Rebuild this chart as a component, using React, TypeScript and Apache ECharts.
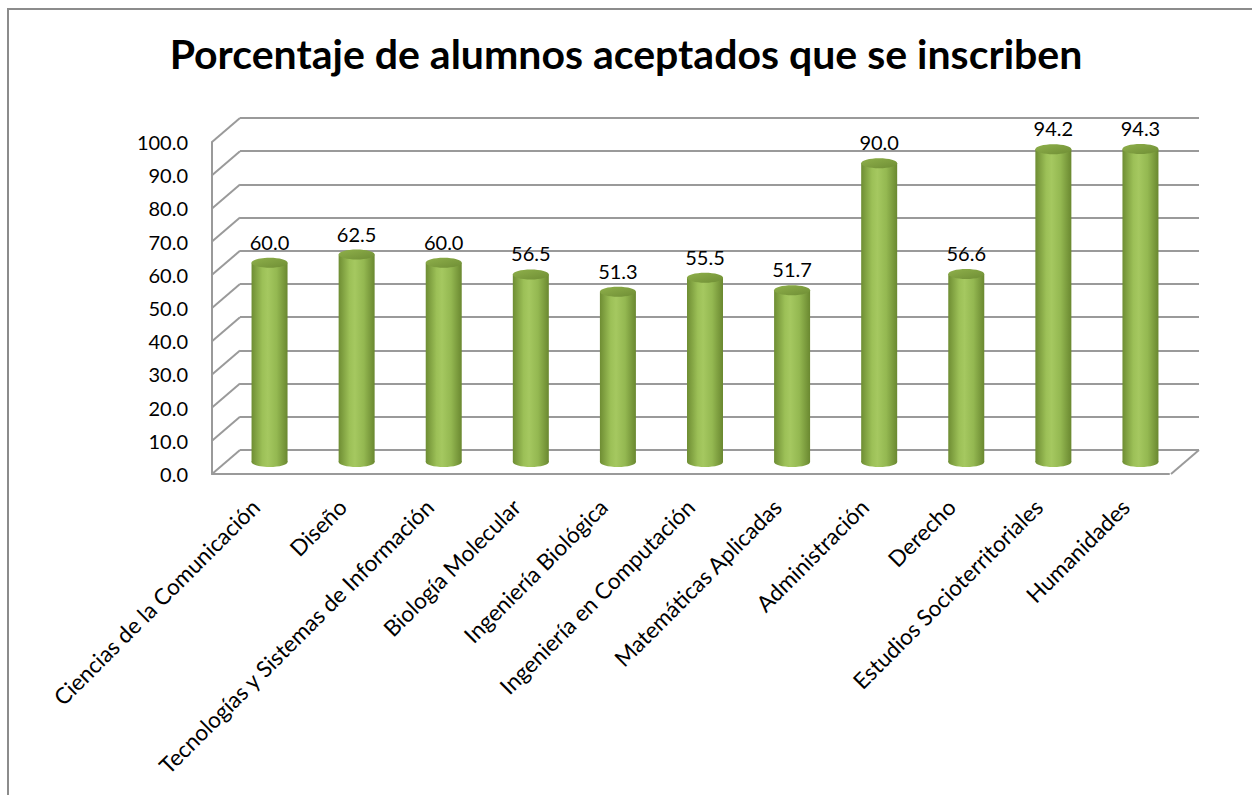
import React, { useEffect, useRef } from "react";
import * as echarts from "echarts";

const titleText = "Porcentaje de alumnos aceptados que se inscriben";

const categories = [
  "Ciencias de la Comunicación",
  "Diseño",
  "Tecnologías y Sistemas de Información",
  "Biología Molecular",
  "Ingeniería Biológica",
  "Ingeniería en Computación",
  "Matemáticas Aplicadas",
  "Administración",
  "Derecho",
  "Estudios Socioterritoriales",
  "Humanidades",
];

const values = [60.0, 62.5, 60.0, 56.5, 51.3, 55.5, 51.7, 90.0, 56.6, 94.2, 94.3];

const yTicks = [0, 10, 20, 30, 40, 50, 60, 70, 80, 90, 100];

const FONT = "Lato, 'Open Sans', 'DejaVu Sans', sans-serif";
const GRID_COLOR = "#9a9a9a";
const DX = -28;
const DY = 24;

export default function App() {
  const ref = useRef<HTMLDivElement>(null);

  useEffect(() => {
    if (!ref.current) return;
    const chart = echarts.init(ref.current, null, { renderer: "svg" });

    const bodyGrad = {
      type: "linear",
      x: 0,
      y: 0,
      x2: 1,
      y2: 0,
      colorStops: [
        { offset: 0, color: "#6e8d33" },
        { offset: 0.3, color: "#9cc057" },
        { offset: 0.45, color: "#a5c860" },
        { offset: 0.7, color: "#94b851" },
        { offset: 1, color: "#6a8830" },
      ],
    };
    const topGrad = {
      type: "linear",
      x: 0,
      y: 0,
      x2: 1,
      y2: 1,
      colorStops: [
        { offset: 0, color: "#8fb04b" },
        { offset: 1, color: "#6f8e35" },
      ],
    };

    const option: any = {
      animation: false,
      backgroundColor: "#ffffff",
      title: {
        text: titleText,
        left: "center",
        top: 28,
        textStyle: {
          fontFamily: FONT,
          fontSize: 41,
          fontWeight: "bold",
          color: "#000000",
        },
      },
      graphic: [
        {
          type: "rect",
          shape: { x: 8, y: 9, width: 1400, height: 1000 },
          style: { fill: "none", stroke: "#8c8c8c", lineWidth: 2 },
          silent: true,
        },
      ],
      grid: [
        { left: 240, right: 53, top: 118, bottom: 345 },
        { left: 226, right: 68, top: 130, bottom: 333 },
        { left: 212, right: 83, top: 142, bottom: 321 },
      ],
      xAxis: [
        { gridIndex: 0, type: "category", data: categories, show: false },
        {
          gridIndex: 1,
          type: "category",
          data: categories,
          show: false,
        },
        {
          gridIndex: 2,
          type: "category",
          data: categories,
          axisLine: { show: true, lineStyle: { color: GRID_COLOR, width: 2 } },
          axisTick: { show: false },
          axisLabel: {
            interval: 0,
            rotate: 45,
            margin: 29,
            fontSize: 22.5,
            fontFamily: FONT,
            color: "#000000",
          },
        },
      ],
      yAxis: [
        {
          gridIndex: 0,
          type: "value",
          min: 0,
          max: 100,
          interval: 10,
          axisLine: { show: false },
          axisTick: { show: false },
          axisLabel: { show: false },
          splitLine: { show: true, lineStyle: { color: GRID_COLOR, width: 2 } },
        },
        {
          gridIndex: 1,
          type: "value",
          min: 0,
          max: 100,
          interval: 10,
          show: false,
          splitLine: { show: false },
        },
        {
          gridIndex: 2,
          type: "value",
          min: 0,
          max: 100,
          interval: 10,
          axisLine: { show: true, lineStyle: { color: GRID_COLOR, width: 2 } },
          axisTick: { show: false },
          splitLine: { show: false },
          axisLabel: {
            margin: 24,
            fontSize: 20,
            fontFamily: FONT,
            color: "#000000",
            formatter: (v: number) => v.toFixed(1),
          },
        },
      ],
      series: [
        {
          type: "custom",
          xAxisIndex: 0,
          yAxisIndex: 0,
          silent: true,
          data: yTicks.map((v) => [0, v]),
          renderItem: (params: any, api: any) => {
            const v = api.value(1);
            const p = api.coord([0, v]);
            const cs = params.coordSys;
            const style = { stroke: GRID_COLOR, lineWidth: 2 };
            const children: any[] = [
              {
                type: "line",
                shape: { x1: cs.x, y1: p[1], x2: cs.x + DX, y2: p[1] + DY },
                style,
              },
            ];
            if (v === 0) {
              children.push({
                type: "line",
                shape: {
                  x1: cs.x + cs.width,
                  y1: p[1],
                  x2: cs.x + cs.width + DX,
                  y2: p[1] + DY,
                },
                style,
              });
            }
            return { type: "group", children };
          },
        },
        {
          type: "custom",
          xAxisIndex: 1,
          yAxisIndex: 1,
          data: values.map((v, i) => [i, v]),
          renderItem: (params: any, api: any) => {
            const i = api.value(0);
            const v = api.value(1);
            const top = api.coord([i, v]);
            const base = api.coord([i, 0]);
            const rx = 18;
            const ry = 5;
            return {
              type: "group",
              children: [
                {
                  type: "ellipse",
                  shape: { cx: base[0], cy: base[1], rx, ry },
                  style: { fill: bodyGrad },
                },
                {
                  type: "rect",
                  shape: {
                    x: top[0] - rx,
                    y: top[1],
                    width: rx * 2,
                    height: base[1] - top[1],
                  },
                  style: { fill: bodyGrad },
                },
                {
                  type: "ellipse",
                  shape: { cx: top[0], cy: top[1], rx, ry },
                  style: { fill: topGrad },
                },
                {
                  type: "text",
                  style: {
                    text: v.toFixed(1),
                    x: top[0],
                    y: top[1] - 21,
                    textAlign: "center",
                    textVerticalAlign: "middle",
                    fontSize: 20,
                    fontFamily: FONT,
                    fill: "#000000",
                  },
                },
              ],
            };
          },
        },
      ],
    };

    chart.setOption(option);
    return () => {
      chart.dispose();
    };
  }, []);

  return (
    <div
      ref={ref}
      style={{ position: "fixed", left: 0, top: 0, width: 1252, height: 795 }}
    />
  );
}
